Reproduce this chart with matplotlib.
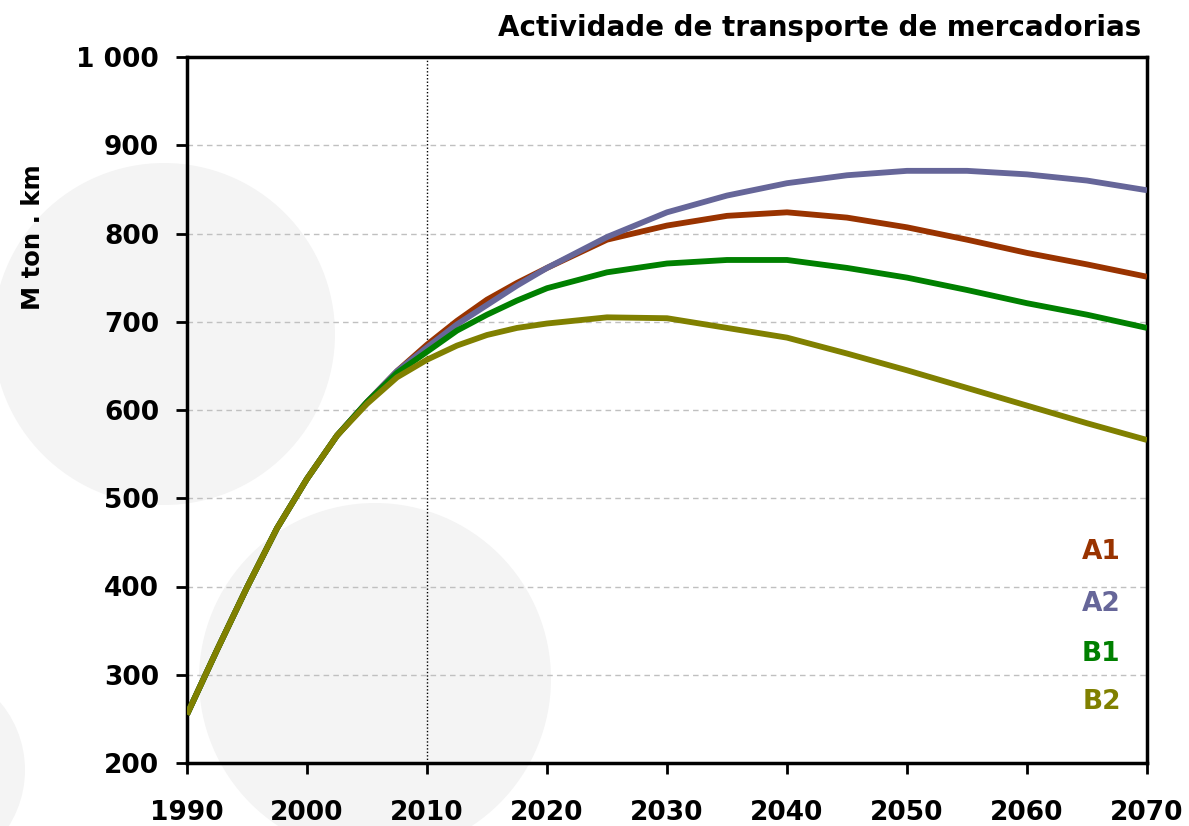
import matplotlib.pyplot as plt
from matplotlib.patches import Circle
from matplotlib.ticker import FuncFormatter

years = [1990, 1992.5, 1995, 1997.5, 2000, 2002.5, 2005, 2007.5, 2010, 2012.5,
         2015, 2017.5, 2020, 2025, 2030, 2035, 2040, 2045, 2050, 2055, 2060,
         2065, 2070]
a1 = [255, 328, 399, 466, 522, 571, 609, 644, 674, 701, 725, 744, 761,
      793, 809, 820, 824, 818, 807, 793, 778, 765, 751]
a2 = [255, 328, 399, 466, 522, 571, 609, 644, 671, 697, 719, 741, 761,
      796, 824, 843, 857, 866, 871, 871, 867, 860, 849]
b1 = [255, 328, 399, 466, 522, 571, 609, 642, 666, 690, 708, 724, 738,
      756, 766, 770, 770, 761, 750, 736, 721, 708, 693]
b2 = [255, 328, 399, 466, 522, 571, 607, 637, 657, 673, 685, 693, 698,
      705, 704, 693, 682, 664, 645, 625, 605, 585, 566]

names = ['A1', 'A2', 'B1', 'B2']
colors = ['#993300', '#666699', '#008000', '#808000']
label_y = [439, 380, 323, 269]

plt.rcParams['font.family'] = ['DejaVu Sans']
plt.rcParams['font.weight'] = 'bold'

fig = plt.figure(figsize=(11.89, 8.26), dpi=100)

# decorative grey circles behind the chart (pixel coordinates)
bg = fig.add_axes([0, 0, 1, 1], zorder=-1)
bg.set_xlim(0, 1189)
bg.set_ylim(826, 0)
bg.axis('off')
for cx, cy, r in [(164, 334, 171), (375, 679, 176), (-80, 770, 105)]:
    bg.add_patch(Circle((cx, cy), r, color='#f4f4f4', lw=0))

ax = fig.add_axes([187 / 1189, 1 - 763 / 826, 960 / 1189, 706 / 826])
ax.patch.set_alpha(0)

# A1 first, B2 last (on top)
for vals, c in zip([a1, a2, b1, b2], colors):
    ax.plot(years, vals, color=c, lw=4.2, solid_capstyle='butt',
            solid_joinstyle='round', zorder=3)

for n, c, y in zip(names, colors, label_y):
    ax.text(2066.2, y, n, color=c, fontsize=19, ha='center', va='center',
            fontweight='bold', zorder=4)

ax.set_xlim(1990, 2070)
ax.set_ylim(200, 1000)
ax.set_xticks(range(1990, 2071, 10))
ax.set_yticks(range(200, 1001, 100))
ax.yaxis.set_major_formatter(FuncFormatter(lambda v, p: f'{int(v):,}'.replace(',', ' ')))

for y in range(300, 1000, 100):
    ax.axhline(y, color='#c0c0c0', lw=1, ls=(0, (4, 3)), zorder=1)
ax.axvline(2010, color='black', lw=1, ls=(0, (1, 1.5)), zorder=2)

for s in ax.spines.values():
    s.set_linewidth(2.5)
ax.tick_params(axis='both', direction='out', length=8, width=2, labelsize=19)
ax.tick_params(axis='x', pad=19)
ax.tick_params(axis='y', pad=12)
for lab in ax.get_xticklabels() + ax.get_yticklabels():
    lab.set_fontweight('bold')

fig.text(1141 / 1189, 1 - 28 / 826, 'Actividade de transporte de mercadorias',
         ha='right', va='center', fontsize=20, fontweight='bold')
fig.text(33 / 1189, 1 - 237 / 826, 'M ton . km', rotation=90,
         ha='center', va='center', fontsize=17.5, fontweight='bold')

fig.savefig('out.png', dpi=100)
